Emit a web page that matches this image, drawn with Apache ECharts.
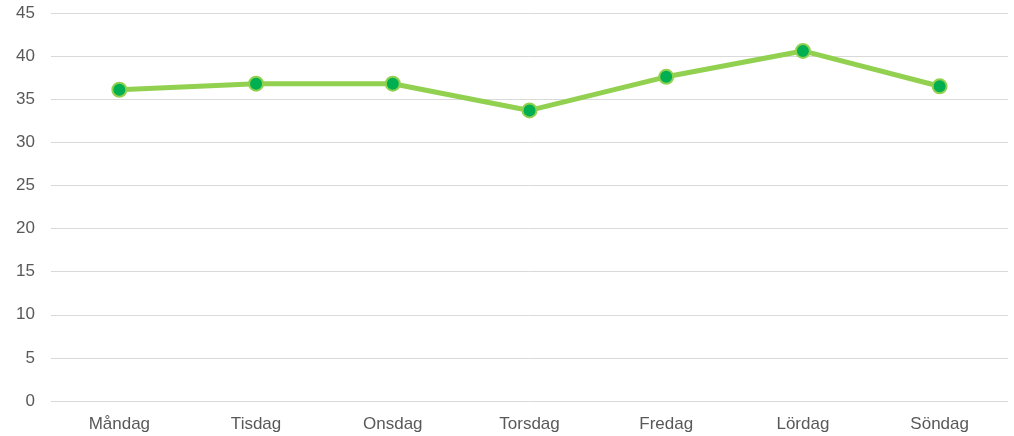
<!DOCTYPE html>
<html><head><meta charset="utf-8">
<script src="https://cdn.jsdelivr.net/npm/echarts@6/dist/echarts.min.js"></script>
<style>html,body{margin:0;padding:0;background:#fff}#c{width:1014px;height:436px}</style>
</head><body><div id="c"></div>
<script>
var categories = ['Måndag','Tisdag','Onsdag','Torsdag','Fredag','Lördag','Söndag'];
var values = [36.1, 36.8, 36.8, 33.7, 37.6, 40.6, 36.5];
var yTicks = {min: 0, max: 45, interval: 5};

var chart = echarts.init(document.getElementById('c'), null, {renderer: 'canvas'});
chart.setOption({
  animation: false,
  grid: {left: 51, right: 6, top: 13, bottom: 35, containLabel: false},
  xAxis: {
    type: 'category', data: categories, boundaryGap: true,
    axisLine: {show: false}, axisTick: {show: false},
    axisLabel: {color: '#595959', fontSize: 17, fontFamily: 'Liberation Sans, Arial', margin: 15}
  },
  yAxis: {
    type: 'value', min: yTicks.min, max: yTicks.max, interval: yTicks.interval,
    axisLine: {show: false}, axisTick: {show: false},
    axisLabel: {color: '#595959', fontSize: 17, fontFamily: 'Liberation Sans, Arial', margin: 16},
    splitLine: {lineStyle: {color: '#d9d9d9', width: 1}}
  },
  series: [{
    type: 'line', data: values,
    lineStyle: {color: '#92d050', width: 5},
    symbol: 'circle', symbolSize: 14,
    itemStyle: {color: '#00b050', borderColor: '#92d050', borderWidth: 2}
  }]
});
</script></body></html>
